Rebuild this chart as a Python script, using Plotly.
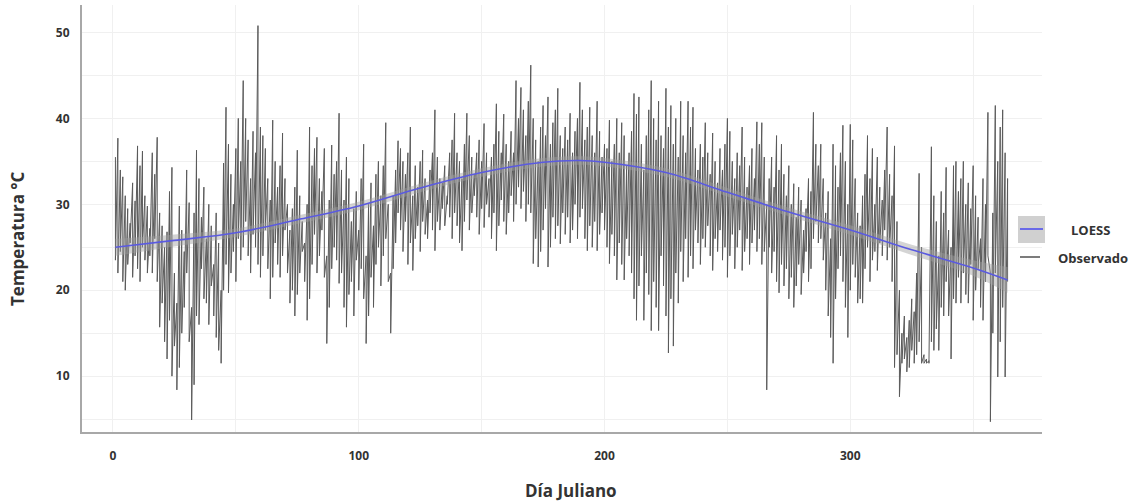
import numpy as np
import plotly.graph_objects as go

# ---------------- datos ----------------
obs_alta = [
    35.5, 37.7, 34.0, 33.2, 31.0, 29.5, 27.8, 32.5, 30.4, 36.8,
    34.5, 36.2, 31.0, 29.8, 27.2, 36.0, 33.5, 37.8, 29.0, 27.5,
    25.0, 26.8, 31.5, 34.3, 22.0, 18.5, 29.8, 27.0, 24.5, 34.0,
    30.2, 18.0, 29.0, 36.3, 33.0, 28.5, 32.0, 26.0, 30.0, 27.5,
    23.0, 29.0, 25.5, 20.0, 34.8, 41.3, 37.0, 33.5, 30.0, 36.5,
    40.0, 35.0, 44.4, 40.0, 37.5, 33.0, 38.5, 36.0, 50.8, 39.0,
    38.0, 36.5, 33.0, 30.5, 39.8, 35.0, 32.0, 34.5, 38.3, 33.0,
    30.0, 27.0, 29.5, 32.0, 36.3, 31.0, 28.0, 25.5, 30.0, 39.0,
    34.5, 36.5, 37.8, 33.0, 31.5, 36.5, 24.0, 30.5, 36.9, 33.5,
    35.0, 40.6, 34.0, 30.5, 35.5, 33.0, 28.0, 29.5, 31.5, 27.0,
    33.0, 37.0, 24.0, 30.0, 32.5, 27.5, 33.5, 35.0, 31.0, 34.5,
    39.5, 30.0, 22.0, 31.0, 34.0, 37.4, 36.5, 35.0, 33.5, 36.0,
    39.0, 31.0, 34.5, 32.0, 35.0, 36.3, 33.0, 30.5, 34.0, 36.0,
    41.0, 35.5, 33.0, 32.5, 34.5, 31.0, 36.0, 37.5, 40.6, 36.0,
    35.0, 33.0, 37.0, 40.6, 38.0, 35.5, 33.5, 36.0, 37.5, 35.0,
    39.4, 36.0, 33.0, 35.5, 37.0, 41.7, 38.5, 36.0, 40.5, 37.0,
    35.0, 38.5, 36.0, 44.4, 40.0, 43.6, 41.0, 38.0, 42.0, 46.2,
    40.0, 37.5, 35.0, 39.0, 41.5, 38.0, 42.5, 37.0, 39.5, 41.0,
    43.5, 38.0, 36.5, 39.0, 37.5, 40.6, 36.0, 38.5, 40.0, 44.2,
    41.0, 37.5, 39.0, 41.3, 38.0, 36.0, 42.0, 38.5, 35.5, 37.0,
    36.5, 39.8, 35.0, 37.0, 40.0, 36.0, 39.5, 38.0, 34.5, 36.0,
    38.5, 42.9, 40.5, 42.5, 37.0, 34.0, 38.0, 41.0, 44.4, 40.0,
    37.5, 42.0, 38.0, 36.5, 43.5, 39.0, 41.5, 37.0, 40.0, 35.5,
    42.0, 38.0, 36.0, 42.0, 39.0, 41.3, 36.5, 34.0, 37.0, 35.5,
    39.5, 36.0, 33.5, 38.3, 35.0, 32.5, 36.5, 34.0, 37.0, 40.0,
    38.5, 35.0, 33.0, 36.0, 34.5, 39.0, 35.5, 32.0, 34.5, 36.5,
    33.0, 39.6, 37.0, 39.5, 35.5, 30.0, 33.0, 35.5, 32.0, 38.0,
    34.0, 37.0, 33.5, 31.0, 34.5, 30.0, 32.4, 28.5, 32.0, 30.5,
    27.0, 29.5, 33.0, 31.5, 40.7, 37.0, 34.5, 37.0, 33.0, 29.0,
    31.5, 26.0, 37.0, 34.5, 32.0, 36.0, 39.2, 35.0, 30.0, 39.3,
    37.5, 33.0, 29.0, 27.5, 31.0, 33.5, 38.0, 33.0, 36.5, 30.0,
    35.5, 32.0, 30.5, 34.0, 39.0, 33.5, 31.0, 36.8, 28.0, 20.0,
    15.0, 17.0, 14.5, 16.5, 19.0, 17.5, 22.0, 33.6, 25.0, 12.5,
    12.0, 11.8, 36.7, 31.0, 28.0, 24.0, 31.5, 29.0, 34.3, 27.0,
    25.0, 34.5, 35.0, 31.5, 33.0, 35.0, 30.0, 32.5, 29.5, 34.5,
    31.0, 28.5, 26.0, 33.0, 30.0, 40.7, 22.0, 29.0, 41.5, 35.0,
    39.0, 41.0, 36.0, 33.0,
]

obs_baja = [
    23.5, 22.0, 24.5, 21.0, 20.0, 23.0, 25.5, 21.5, 24.0, 22.5,
    21.0, 25.0, 23.5, 22.0, 24.0, 22.0, 26.0, 21.0, 15.7, 18.5,
    14.0, 12.0, 16.5, 10.0, 13.5, 8.4, 11.0, 15.0, 18.0, 22.0,
    14.0, 4.9, 9.0, 17.0, 16.0, 22.5, 19.0, 18.5, 16.0, 20.5,
    17.0, 14.5, 13.0, 11.5, 20.0, 23.0, 19.7, 22.0, 24.5, 21.0,
    26.0, 23.5, 25.0, 28.0, 24.0, 22.0, 26.5, 25.0, 23.0, 21.5,
    24.0, 27.0, 22.5, 19.0, 21.5, 25.5, 23.0, 21.5, 24.0, 27.0,
    22.0, 18.5, 20.0, 17.0, 19.5, 22.0, 24.5, 21.0, 16.5, 19.0,
    23.0, 26.5, 22.0, 24.0, 27.0, 21.5, 13.8, 18.0, 22.5, 25.0,
    23.5, 20.8, 22.0, 18.0, 15.7, 19.5, 21.0, 17.0, 23.5, 20.0,
    22.5, 19.0, 13.8, 17.0, 21.5, 18.0, 23.0, 25.0, 20.5, 24.0,
    26.0, 21.0, 15.0, 22.5, 25.5, 29.0, 27.0, 24.5, 28.0, 23.0,
    25.5, 22.3, 26.0, 27.5, 24.5, 28.0, 26.5, 26.0, 29.0, 27.0,
    24.6, 28.0, 27.0, 29.5, 27.5, 30.0, 28.5, 26.0, 29.0, 27.5,
    25.5, 24.6, 28.0, 30.5, 27.0, 29.0, 31.0, 28.5, 26.5, 29.5,
    27.3, 30.0, 28.5, 26.0, 29.0, 24.6, 27.5, 30.5, 28.0, 26.5,
    29.0, 31.0, 28.0, 30.0, 32.0, 29.5, 31.5, 28.0, 30.0, 29.0,
    23.1, 26.0, 22.7, 24.5, 27.0, 29.5, 22.7, 25.0, 28.5, 26.0,
    27.5, 25.4, 29.0, 26.5, 28.5, 25.5, 27.0, 30.0, 26.0, 28.5,
    29.5, 26.0, 24.6, 27.5, 25.0, 28.0, 24.6, 26.5, 29.0, 27.0,
    25.0, 23.1, 26.5, 24.0, 21.2, 25.5, 23.0, 21.2, 26.0, 24.0,
    22.0, 19.0, 16.5, 20.5, 24.0, 16.5, 22.0, 19.5, 15.3, 21.0,
    18.0, 15.3, 24.0, 20.5, 17.0, 12.7, 19.0, 13.5, 22.0, 18.5,
    24.5, 21.0, 26.0, 21.5, 24.0, 22.5, 27.0, 25.5, 23.0, 26.0,
    25.0, 27.5, 24.0, 22.3, 26.0, 24.5, 27.0, 23.5, 25.0, 21.5,
    24.0, 26.5, 22.5, 25.0, 27.0, 22.3, 24.5, 26.0, 23.0, 25.5,
    27.0, 24.5, 26.0, 23.0, 24.5, 8.4, 25.0, 22.0, 24.5, 21.0,
    19.7, 23.0, 20.5, 22.5, 19.0, 21.5, 18.0, 20.5, 23.0, 19.5,
    22.0, 24.5, 21.0, 22.5, 26.0, 28.0, 25.5, 26.0, 23.5, 20.0,
    17.0, 14.5, 11.5, 19.0, 22.5, 24.0, 21.0, 18.0, 14.5, 20.0,
    23.0, 21.5, 18.5, 19.0, 18.5, 22.5, 25.0, 21.0, 23.5, 24.5,
    22.3, 25.5, 24.0, 27.0, 23.5, 25.0, 21.0, 11.0, 12.5, 7.6,
    11.5, 12.0, 10.5, 11.0, 13.0, 11.5, 12.5, 14.0, 11.5, 11.5,
    11.5, 11.5, 14.0, 13.0, 15.5, 13.0, 18.0, 17.0, 21.0, 17.0,
    12.0, 19.0, 18.5, 21.5, 18.5, 22.0, 19.5, 18.5, 23.0, 16.5,
    20.0, 22.5, 18.0, 16.5, 21.0, 24.0, 4.7, 15.0, 22.0, 9.9,
    14.0, 18.0, 9.9, 21.0,
]

loess_dias = [1, 25, 50, 75, 100, 125, 150, 175, 190, 200, 225, 250, 275, 300, 325, 350, 364]
loess_valor = [25.0, 25.8, 26.7, 28.2, 29.8, 31.9, 33.7, 34.9, 35.1, 34.9, 33.7, 31.4, 29.1, 27.0, 24.7, 22.6, 21.2]
loess_ic = [1.0, 0.7, 0.5, 0.5, 0.5, 0.5, 0.5, 0.5, 0.5, 0.5, 0.5, 0.5, 0.5, 0.55, 0.6, 0.9, 1.5]

x_ticks = [0, 100, 200, 300]
y_ticks = [10, 20, 30, 40, 50]

# ---------------- figura ----------------
n = min(len(obs_alta), len(obs_baja))
obs_x, obs_y = [], []
for i in range(n):
    d = i + 1
    obs_x += [d, d]
    obs_y += [obs_alta[i], obs_baja[i]]

sup = [v + e for v, e in zip(loess_valor, loess_ic)]
inf = [v - e for v, e in zip(loess_valor, loess_ic)]

fig = go.Figure()
fig.add_trace(go.Scatter(x=obs_x, y=obs_y, mode="lines",
                         line=dict(color="#5a5a5a", width=1),
                         name="Observado", showlegend=False))
fig.add_trace(go.Scatter(x=loess_dias, y=inf, mode="lines",
                         line=dict(width=0, shape="spline"), showlegend=False,
                         hoverinfo="skip"))
fig.add_trace(go.Scatter(x=loess_dias, y=sup, mode="lines", fill="tonexty",
                         fillcolor="rgba(160,160,160,0.45)",
                         line=dict(width=0, shape="spline"), showlegend=False,
                         hoverinfo="skip"))
fig.add_trace(go.Scatter(x=loess_dias, y=loess_valor, mode="lines",
                         line=dict(color="#5a5ae0", width=1.6, shape="spline"),
                         name="LOESS", showlegend=False))

font_fam = "Open Sans, Lato, DejaVu Sans, sans-serif"

L, R, T, B = 82, 1042, 5, 432
PW, PH = R - L, B - T

def px(xp):
    return (xp - L) / PW

def py(yp):
    return (B - yp) / PH

# leyenda manual
fig.add_shape(type="rect", xref="paper", yref="paper",
              x0=px(1018), x1=px(1045), y0=py(243), y1=py(216),
              fillcolor="#d0d0d0", line=dict(width=0), layer="above")
fig.add_shape(type="line", xref="paper", yref="paper",
              x0=px(1020), x1=px(1043), y0=py(229), y1=py(229),
              line=dict(color="#6a6ae8", width=2), layer="above")
fig.add_shape(type="line", xref="paper", yref="paper",
              x0=px(1020), x1=px(1040), y0=py(257), y1=py(257),
              line=dict(color="#505050", width=1.5), layer="above")

def etiqueta(xp, yp, texto, size, angle=0):
    fig.add_annotation(x=px(xp), y=py(yp), xref="paper", yref="paper",
                       xanchor="center", yanchor="middle",
                       text=f"<b>{texto}</b>", showarrow=False, textangle=angle,
                       font=dict(family=font_fam, size=size, color="#333333"))

etiqueta(1090, 230, "LOESS", 13)
etiqueta(1093, 258, "Observado", 13)
etiqueta(571, 491, "Día Juliano", 17)
etiqueta(18, 239, "Temperatura °C", 17, -90)

fig.update_layout(
    width=1137, height=502,
    margin=dict(l=L, r=1137 - R, t=T, b=502 - B, autoexpand=False),
    paper_bgcolor="white", plot_bgcolor="white",
    font=dict(family=font_fam, color="#333333"),
    showlegend=False,
)
fig.update_xaxes(
    range=[-12.6, 378], tickvals=x_ticks, ticktext=[f"<b>{v}</b>" for v in x_ticks],
    showline=True, linecolor="#a8a8a8", linewidth=2,
    showgrid=True, gridcolor="#f0f0f0", gridwidth=1,
    minor=dict(dtick=50, tick0=0, showgrid=True, gridcolor="#f0f0f0"),
    zeroline=False, ticks="", ticklabelstandoff=12, automargin=False,
    tickfont=dict(size=12, color="#333333"),
)
fig.update_yaxes(
    range=[3.5, 53.2], tickvals=y_ticks, ticktext=[f"<b>{v}</b>" for v in y_ticks],
    showline=True, linecolor="#a8a8a8", linewidth=2,
    showgrid=True, gridcolor="#f0f0f0", gridwidth=1,
    minor=dict(dtick=5, tick0=0, showgrid=True, gridcolor="#f0f0f0"),
    zeroline=False, ticks="", ticklabelstandoff=8, automargin=False,
    tickfont=dict(size=12, color="#333333"),
)

fig.write_html("out.html", config={"displayModeBar": False},
               post_script="document.body.style.margin='0';document.body.style.overflow='hidden';")
